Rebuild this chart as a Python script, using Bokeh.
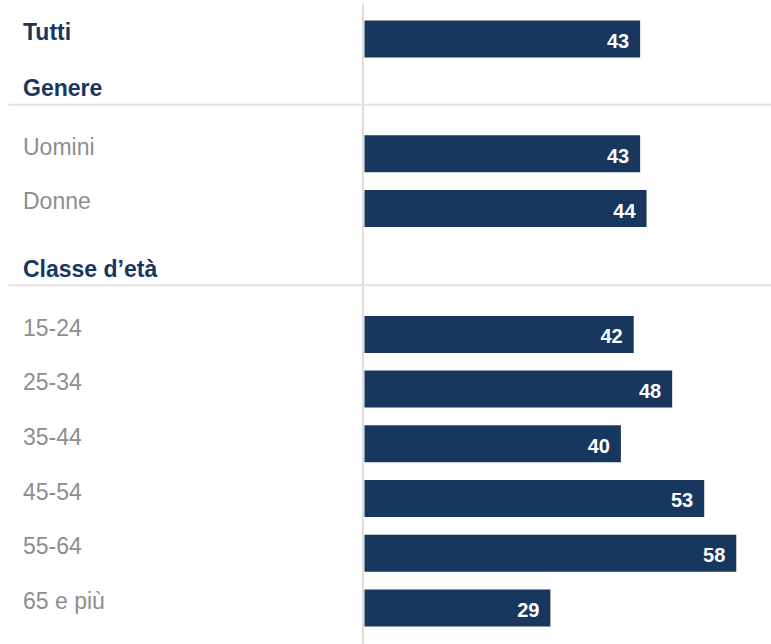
from bokeh.plotting import figure
from bokeh.models import Range1d, ColumnDataSource
from bokeh.core.properties import value
from bokeh.embed import file_html
from bokeh.resources import INLINE

# ---- data ----
categories = ["Tutti", "Uomini", "Donne", "15-24", "25-34", "35-44", "45-54", "55-64", "65 e più"]
values = [43, 43, 44, 42, 48, 40, 53, 58, 29]
sections = ["", "Genere", "Classe d\u2019età"]
category_section = [0, 1, 1, 2, 2, 2, 2, 2, 2]

# ---- layout (styles / positions) ----
W, H = 771, 644
PITCH = 54.7            # px per row slot
PX_PER_UNIT = 6.41      # px per value unit
ZERO_PX = 364           # px of value 0 inside the frame
TOP_PX = 38.5           # px of the first row centre
section_extra = [0.0, 1.1, 2.4]
BAR_H_PX = 37
LABEL_X_PX = 22.5
RULE_X0_PX = 8

NAVY = "#17375e"
GREY = "#8e8e8e"
RULE = "#e2e2e2"

HEAD_FS = 23
LAB_FS = 23
VAL_FS = 20
BASE_FIX = 0.4          # baseline correction, fraction of font size

slots = [i + section_extra[s] for i, s in enumerate(category_section)]

x_start = -ZERO_PX / PX_PER_UNIT
x_end = x_start + W / PX_PER_UNIT
y_top = -TOP_PX / PITCH
y_bottom = y_top + H / PITCH
px_x = lambda px: x_start + px / PX_PER_UNIT   # frame px -> data x
dy = lambda px: px / PITCH                     # px -> data y offset

p = figure(width=W, height=H, output_backend="svg", toolbar_location=None,
           x_range=Range1d(x_start, x_end), y_range=Range1d(y_bottom, y_top),
           x_axis_location=None, y_axis_location=None, min_border=0)
p.grid.visible = False
p.outline_line_color = None
p.background_fill_color = "white"
p.border_fill_color = "white"

# vertical zero line
p.segment(x0=[px_x(ZERO_PX - 1.5)], x1=[px_x(ZERO_PX - 1.5)],
          y0=[y_top + dy(3)], y1=[y_bottom], line_color="#dddddd", line_width=2)

# section separators + headers
sx0, sx1, sy, hx, hy, htext = [], [], [], [], [], []
for s, name in enumerate(sections):
    if not name:
        continue
    first = category_section.index(s)
    sep = slots[first] - 0.9
    sx0.append(px_x(RULE_X0_PX)); sx1.append(x_end); sy.append(sep)
    hx.append(px_x(LABEL_X_PX))
    hy.append(sep - dy(7 + BASE_FIX * HEAD_FS))
    htext.append(name)

p.segment(x0=sx0, x1=sx1, y0=sy, y1=sy, line_color=RULE, line_width=2)

p.text(x=hx, y=hy, text=htext, text_align="left",
       text_baseline="alphabetic", text_font=value("Liberation Sans"),
       text_font_style="bold", text_font_size=f"{HEAD_FS}px", text_color=NAVY)

src = ColumnDataSource(dict(
    y=slots, v=values,
    val_y=[s + dy(10 - BASE_FIX * VAL_FS) for s in slots],
    vtxt=[str(v) for v in values],
))

p.hbar(y="y", left=0, right="v", height=dy(BAR_H_PX), source=src,
       fill_color=NAVY, line_color=None)

# category labels: top-level ("Tutti") bold navy, others grey
top_idx = [i for i, s in enumerate(category_section) if s == 0]
rest_idx = [i for i, s in enumerate(category_section) if s != 0]

p.text(x=[px_x(LABEL_X_PX)] * len(top_idx),
       y=[slots[i] + dy(2 - BASE_FIX * HEAD_FS) for i in top_idx],
       text=[categories[i] for i in top_idx],
       text_align="left", text_baseline="alphabetic",
       text_font=value("Liberation Sans"), text_font_style="bold",
       text_font_size=f"{HEAD_FS}px", text_color=NAVY)

p.text(x=[px_x(LABEL_X_PX)] * len(rest_idx),
       y=[slots[i] + dy(2 - BASE_FIX * LAB_FS) for i in rest_idx],
       text=[categories[i] for i in rest_idx],
       text_align="left", text_baseline="alphabetic",
       text_font=value("Liberation Sans"), text_font_size=f"{LAB_FS}px",
       text_color=GREY)

# value labels inside bars
p.text(x="v", y="val_y", text="vtxt", source=src, x_offset=-11,
       text_align="right", text_baseline="alphabetic",
       text_font=value("Liberation Sans"), text_font_style="bold",
       text_font_size=f"{VAL_FS}px", text_color="white")

open("out.html", "w").write(file_html(p, INLINE))
